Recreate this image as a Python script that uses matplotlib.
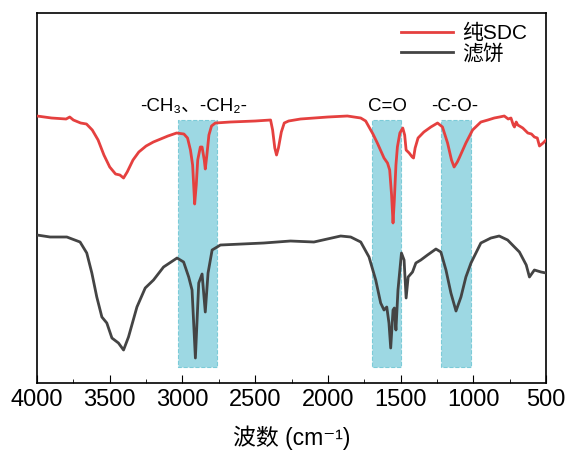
import matplotlib.pyplot as plt
from matplotlib.ticker import MultipleLocator

plt.rcParams['font.family'] = ['Liberation Sans', 'Noto Sans CJK SC', 'DejaVu Sans']

# 波数 (cm-1) 和 相对透过率 (任意单位)
wn_sdc = [4000, 3900, 3800, 3775, 3750, 3700, 3660, 3620, 3580, 3540, 3500, 3460, 3430,
          3405, 3380, 3340, 3300, 3250, 3200, 3150, 3100, 3040, 2990, 2965, 2945, 2930,
          2916, 2905, 2895, 2877, 2865, 2850, 2843, 2832, 2818, 2800, 2774, 2670, 2500,
          2394, 2380, 2365, 2353, 2340, 2320, 2300, 2270, 2188, 2000, 1866, 1774, 1740,
          1717, 1690, 1660, 1614, 1590, 1575, 1562, 1552, 1543, 1532, 1522, 1505, 1485,
          1472, 1462, 1441, 1420, 1411, 1400, 1380, 1340, 1292, 1246, 1212, 1177, 1150,
          1132, 1110, 1097, 1051, 1005, 948, 900, 856, 820, 787, 760, 741, 725, 717, 705,
          694, 660, 625, 600, 580, 560, 545, 520, 500]
t_sdc = [267, 265, 264, 266, 263, 260, 259, 253, 243, 228, 216, 209, 208,
         205, 211, 223, 231, 237, 241, 244, 247, 250, 249, 245, 233, 218,
         179, 198, 223, 236, 236, 223, 214, 228, 248, 257, 260, 261, 262,
         263, 253, 235, 228, 235, 251, 260, 262, 264, 266, 267, 265, 262,
         256, 249, 240, 225, 220, 213, 188, 160, 183, 218, 236, 250, 255,
         248, 233, 230, 226, 225, 235, 245, 251, 256, 260, 256, 240, 223,
         216, 221, 225, 240, 253, 261, 263, 265, 266, 267, 264, 265, 258, 256, 261,
         258, 255, 250, 249, 246, 245, 237, 240, 243]

wn_cake = [4000, 3910, 3795, 3704, 3658, 3623, 3589, 3554, 3520, 3485, 3440, 3405, 3371,
           3313, 3256, 3199, 3130, 3037, 2992, 2957, 2934, 2911, 2888, 2865, 2843, 2824,
           2796, 2739, 2441, 2257, 2096, 1912, 1843, 1774, 1717, 1671, 1637, 1614, 1595,
           1580, 1568, 1552, 1543, 1532, 1518, 1494, 1476, 1462, 1448, 1418, 1395, 1361,
           1315, 1257, 1223, 1188, 1154, 1119, 1085, 1051, 1016, 948, 879, 822, 764, 717,
           683, 636, 614, 580, 534, 500]
t_cake = [148, 146, 146, 141, 130, 110, 86, 66, 60, 45, 40, 33, 46,
          76, 95, 103, 116, 125, 121, 106, 93, 25, 100, 109, 71, 110,
          133, 138, 140, 142, 141, 147, 146, 141, 126, 103, 80, 73, 76,
          60, 35, 73, 75, 53, 93, 130, 123, 85, 106, 111, 120, 123,
          128, 134, 131, 113, 90, 72, 86, 106, 120, 140, 145, 147, 143, 136,
          131, 118, 106, 113, 111, 110]

bands = [(3028, 2760), (1700, 1495), (1220, 1015)]
band_labels = ['-CH₃、-CH₂-', 'C=O', '-C-O-']
label_pos = [2925, 1590, 1130]

fig = plt.figure(figsize=(5.66, 4.53), dpi=100)
ax = fig.add_axes([0.0654, 0.1545, 0.8993, 0.8168])

for (hi, lo) in bands:
    ax.fill_between([lo, hi], 16, 263, facecolor='#9dd8e3', edgecolor='#7ccbd8',
                    linestyle='--', linewidth=0.8, zorder=1)

ax.plot(wn_sdc, t_sdc, color='#e5403f', linewidth=2, label='纯SDC', zorder=3)
ax.plot(wn_cake, t_cake, color='#444444', linewidth=2, label='滤饼', zorder=3)

for txt, xp in zip(band_labels, label_pos):
    ax.text(xp, 268, txt, ha='center', va='bottom', fontsize=13.5)

ax.set_xlim(4000, 500)
ax.set_ylim(0, 370)
ax.xaxis.set_major_locator(MultipleLocator(500))
ax.xaxis.set_minor_locator(MultipleLocator(250))
ax.tick_params(axis='x', which='major', direction='in', length=6, labelsize=17, pad=4)
ax.tick_params(axis='x', which='minor', direction='in', length=3)
ax.set_yticks([])
for s in ax.spines.values():
    s.set_linewidth(1.2)
ax.set_xlabel('波数 (cm⁻¹)', fontsize=16.5, labelpad=11)

ax.legend(loc='upper right', bbox_to_anchor=(0.98, 0.994), borderaxespad=0,
          frameon=False, fontsize=15, handlelength=2.5,
          handletextpad=0.45, labelspacing=0.05)

fig.savefig('out.png', dpi=100)
